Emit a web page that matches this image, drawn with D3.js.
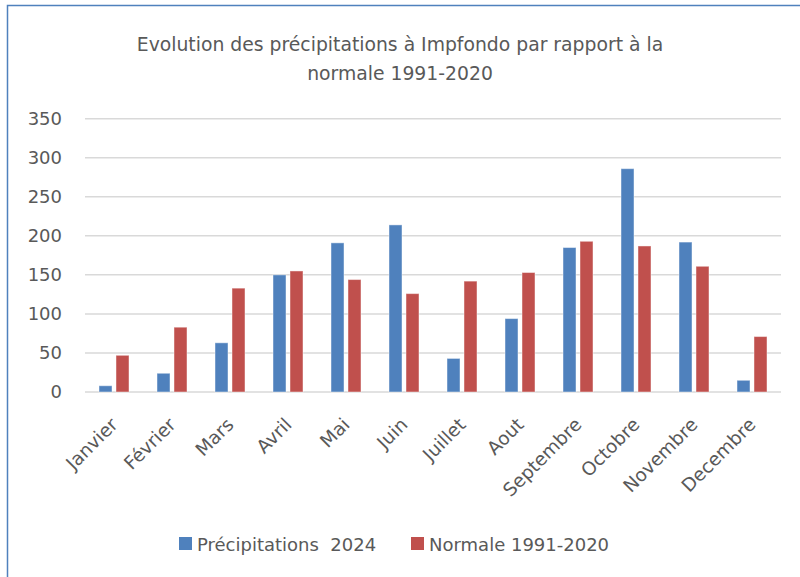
<!DOCTYPE html>
<html>
<head>
<meta charset="utf-8">
<script src="https://cdn.jsdelivr.net/npm/d3@7"></script>
<style>
  body { margin: 0; background: #fff; }
  text { font-family: "DejaVu Sans", sans-serif; fill: #595959; }
</style>
</head>
<body>
<div id="chart"></div>
<script>
// Données
const months = ["Janvier", "Février", "Mars", "Avril", "Mai", "Juin", "Juillet",
  "Aout", "Septembre", "Octobre", "Novembre", "Decembre"]
const precip2024 = [8, 24, 63, 150, 191, 214, 43, 94, 185, 286, 192, 15]
const normale = [47, 83, 133, 155, 144, 126, 142, 153, 193, 187, 161, 71]
const seriesNames = ["Précipitations  2024", "Normale 1991-2020"]
const seriesColors = ["#4f81bd", "#c0504d"]
const yTicks = [0, 50, 100, 150, 200, 250, 300, 350]
const titleLines = ["Evolution des précipitations à Impfondo par rapport à la", "normale 1991-2020"]

const width = 800
const height = 577

// Zone du graphique
const plotL = 85, plotR = 781, plotT = 118.7, plotB = 392

const svg = d3.select("#chart")
  .append("svg")
  .attr("width", width)
  .attr("height", height)

// Cadre
svg.append("rect")
  .attr("x", 7.5).attr("y", 5.5)
  .attr("width", 820).attr("height", 600)
  .attr("fill", "none")
  .attr("stroke", "#4f81bd")
  .attr("stroke-width", 1.5)

// Titre
svg.append("g")
  .selectAll("text")
  .data(titleLines)
  .enter()
  .append("text")
  .attr("x", 400)
  .attr("y", (d, i) => 51 + i * 29)
  .attr("text-anchor", "middle")
  .style("font-size", "18.8px")
  .text(d => d)

const y = d3.scaleLinear().domain([0, 350]).range([plotB, plotT])
const x0 = d3.scaleBand().domain(months).range([plotL, plotR]).paddingInner(0.483).paddingOuter(0.2415)
const x1 = d3.scaleBand().domain([0, 1]).range([0, x0.bandwidth()]).paddingInner(0.235)

// Grille
svg.append("g")
  .selectAll("line")
  .data(yTicks)
  .enter()
  .append("line")
  .attr("x1", plotL).attr("x2", plotR)
  .attr("y1", d => y(d)).attr("y2", d => y(d))
  .attr("stroke", "#d9d9d9")
  .attr("stroke-width", 1.5)

// Axe Y
const yAxis = svg.append("g")
  .attr("transform", "translate(" + 66 + ",0)")
  .call(d3.axisLeft(y).tickValues(yTicks).tickSize(0).tickPadding(4))
yAxis.select(".domain").remove()
yAxis.selectAll("text")
  .style("font-size", "18px")
  .style("font-family", "DejaVu Sans, sans-serif")
  .attr("fill", "#595959")

// Barres
const groups = svg.append("g")
  .selectAll("g")
  .data(months.map((m, i) => ({ m: m, v: [precip2024[i], normale[i]] })))
  .enter()
  .append("g")
  .attr("transform", d => "translate(" + x0(d.m) + ",0)")

groups.selectAll("rect")
  .data(d => d.v.map((v, k) => ({ k: k, v: v })))
  .enter()
  .append("rect")
  .attr("x", d => x1(d.k))
  .attr("y", d => y(d.v))
  .attr("width", x1.bandwidth())
  .attr("height", d => plotB - y(d.v))
  .attr("fill", d => seriesColors[d.k])
  .attr("stroke", "#ffffff")
  .attr("stroke-opacity", 0.45)
  .attr("stroke-width", 1)

// Libellés des mois
svg.append("g")
  .selectAll("text")
  .data(months)
  .enter()
  .append("text")
  .attr("transform", d => "translate(" + (x0(d) + x0.bandwidth() / 2 - 5) + "," + 416 + ") rotate(-45)")
  .attr("text-anchor", "end")
  .attr("dy", "0.75em")
  .style("font-size", "18.5px")
  .text(d => d)

// Légende
const legendX = [179, 411]
const legend = svg.append("g")
  .selectAll("g")
  .data(seriesNames)
  .enter()
  .append("g")
  .attr("transform", (d, i) => "translate(" + legendX[i] + ",537)")
legend.append("rect")
  .attr("width", 13).attr("height", 13)
  .attr("fill", (d, i) => seriesColors[i])
legend.append("text")
  .attr("x", 18)
  .attr("y", 14)
  .style("font-size", "18px")
  .style("white-space", "pre")
  .attr("xml:space", "preserve")
  .text(d => d)
</script>
</body>
</html>
